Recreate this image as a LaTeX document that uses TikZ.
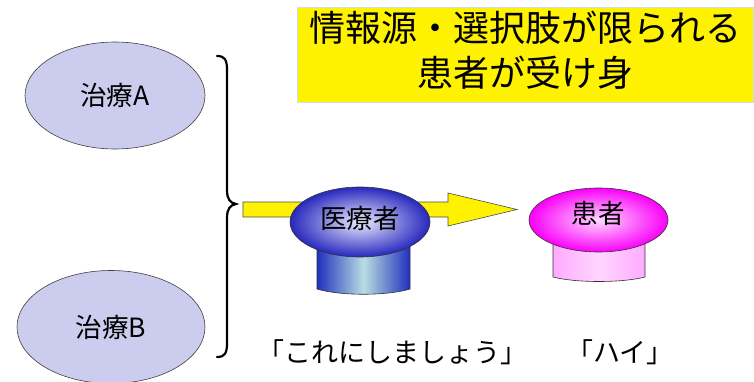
\documentclass[tikz,border=0pt]{standalone}
\usepackage{fontspec}
\setmainfont{Noto Sans CJK JP}
\usetikzlibrary{shapes.geometric}
\definecolor{lav}{RGB}{204,204,238}
\definecolor{docblue}{RGB}{40,40,190}
\definecolor{doccyl}{RGB}{32,48,190}
\definecolor{cyanl}{RGB}{184,222,226}
\definecolor{mag}{RGB}{250,0,250}
\definecolor{pinkcyl}{RGB}{255,170,255}
\definecolor{pinkl}{RGB}{255,214,255}
\definecolor{boxedge}{RGB}{200,224,232}
\tikzset{
  txt/.style={font=\fontsize{26.5}{30}\selectfont, text=black},
  choice/.style={ellipse, draw=black!75, line width=0.6pt, fill=lav, inner sep=0pt, txt},
  head/.style={ellipse, draw=black!80, line width=0.6pt, inner sep=0pt, txt},
  cyl/.style={draw=black!80, line width=0.6pt},
}
\begin{document}
\begin{tikzpicture}[x=1pt,y=-1pt]
\useasboundingbox (0,0) rectangle (754,382);
\begin{scope}
\clip (0,0) rectangle (754,382);
% title box
\node[draw=boxedge, line width=0.8pt, fill=yellow, minimum width=456pt, minimum height=95pt, inner sep=0pt] (title) at (525,55) {};
\node[align=center, font=\fontsize{36}{45}\selectfont, inner sep=0pt] (titletxt) at (525,50) {情報源・選択肢が限られる\\患者が受け身};
% choices
\node[choice, minimum width=180pt, minimum height=107pt] (A) at (115,95.5) {治療A};
\node[choice, minimum width=188pt, minimum height=113pt] (B) at (111,327) {治療B};
% brace
\draw[line width=2.2pt, line cap=round] (217,56) .. controls (225,56) and (227,60) .. (227,70) -- (227,190)
  .. controls (227,199) and (230,203) .. (236,204) .. controls (230,205) and (227,209) .. (227,218)
  -- (227,343) .. controls (227,353) and (225,357) .. (217,357);
% big arrow
\coordinate (tip) at (517,209.5);
\draw[draw=black!70, line width=0.6pt, fill=yellow] (243,202) -- (448,202) -- (448,193) -- (tip) -- (448,226) -- (448,217) -- (243,217) -- cycle;
% doctor
\draw[cyl, left color=doccyl, right color=doccyl, middle color=cyanl]
  (317,240) -- (317,289) .. controls (340,296) and (387,296) .. (410,289) -- (410,240) -- cycle;
\node[head, minimum width=140pt, minimum height=70pt, inner color=white!92!blue, outer color=docblue] (doc) at (360,222) {};
\node[txt] (doctxt) at (360,218) {医療者};
% patient
\draw[cyl, left color=pinkcyl, right color=pinkcyl, middle color=pinkl]
  (553,235) -- (553,277) .. controls (576,283) and (622,283) .. (645,277) -- (645,235) -- cycle;
\node[head, minimum width=139pt, minimum height=64pt, inner color=white!85!mag, outer color=mag] (pat) at (598.5,220) {};
\node[txt] (pattxt) at (598,213) {患者};
% replies
\node[txt, font=\fontsize{27}{30}\selectfont] (say1) at (392,352) {「これにしましょう」};
\node[txt, font=\fontsize{27}{30}\selectfont] (say2) at (620,352) {「ハイ」};
\end{scope}
\end{tikzpicture}
\end{document}
